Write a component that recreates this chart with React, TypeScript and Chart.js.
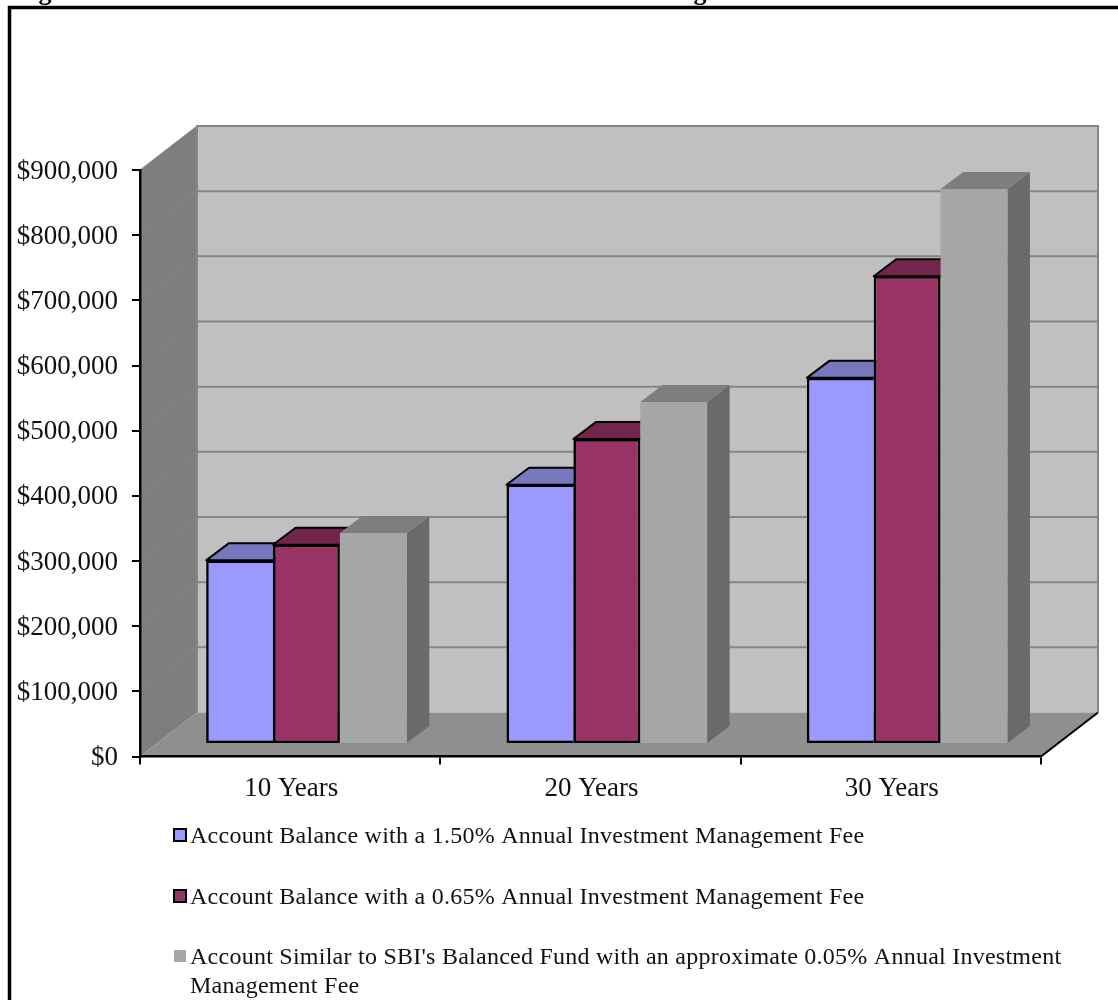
import React, { useEffect, useRef } from "react";
import { Chart, registerables } from "chart.js";

Chart.register(...registerables);

const categories = ["10 Years", "20 Years", "30 Years"];
const fee150 = [282000, 398000, 562000];
const fee065 = [306000, 468000, 718000];
const fee005 = [324000, 525000, 852000];
const seriesLabels = [
  "Account Balance with a 1.50% Annual Investment Management Fee",
  "Account Balance with a 0.65% Annual Investment Management Fee",
  "Account Similar to SBI's Balanced Fund with an approximate 0.05% Annual Investment Management Fee",
];
const legendLines = [
  [seriesLabels[0]],
  [seriesLabels[1]],
  ["Account Similar to SBI's Balanced Fund with an approximate 0.05% Annual Investment", "Management Fee"],
];
const titleTails = [{ text: "g", x: 45 }, { text: "g", x: 700 }];

const SERIF = "'Liberation Serif', 'Times New Roman', serif";
const WALL = { dx: 57, dy: -44 };
const BAR_SHIFT = { dx: 16.3, dy: -12.4 };
const BAR_DEPTH = { dx: 22.5, dy: -17 };
const BAR_EDGE = 2.6;
const SHADES: Record<number, { top: string; side: string; outlined: boolean }> = {
  0: { top: "#7777BE", side: "#6A6AA8", outlined: true },
  1: { top: "#73264C", side: "#5E1F3E", outlined: true },
  2: { top: "#7E7E7E", side: "#6A6A6A", outlined: false },
};

function poly(ctx: CanvasRenderingContext2D, pts: number[][], fill: string, stroke?: string) {
  ctx.beginPath();
  pts.forEach((p, i) => (i ? ctx.lineTo(p[0], p[1]) : ctx.moveTo(p[0], p[1])));
  ctx.closePath();
  ctx.fillStyle = fill;
  ctx.fill();
  if (stroke) {
    ctx.strokeStyle = stroke;
    ctx.lineWidth = 2;
    ctx.lineJoin = "round";
    ctx.stroke();
  }
}

const wallsPlugin = {
  id: "walls",
  beforeDraw(chart: any) {
    const { ctx, chartArea: a, scales } = chart;
    const { dx, dy } = WALL;
    ctx.save();
    ctx.strokeStyle = "#000";
    ctx.lineWidth = 3.5;
    ctx.beginPath();
    ctx.moveTo(9.5, chart.height + 5);
    ctx.lineTo(9.5, 7.5);
    ctx.lineTo(chart.width + 5, 7.5);
    ctx.stroke();
    ctx.fillStyle = "#000";
    ctx.font = `bold 26px ${SERIF}`;
    ctx.textAlign = "center";
    ctx.textBaseline = "alphabetic";
    titleTails.forEach((t) => ctx.fillText(t.text, t.x, 0));
    poly(ctx, [[a.left + dx, a.top + dy], [a.right + dx, a.top + dy], [a.right + dx, a.bottom + dy], [a.left + dx, a.bottom + dy]], "#C0C0C0");
    poly(ctx, [[a.left, a.top], [a.left + dx, a.top + dy], [a.left + dx, a.bottom + dy], [a.left, a.bottom]], "#7E7E7E");
    poly(ctx, [[a.left, a.bottom], [a.left + dx, a.bottom + dy], [a.right + dx, a.bottom + dy], [a.right, a.bottom]], "#8F8F8F");
    scales.y.ticks.forEach((t: any) => {
      const y = scales.y.getPixelForValue(t.value);
      if (t.value > 0) {
        ctx.strokeStyle = "#878787";
        ctx.lineWidth = 1;
        ctx.beginPath();
        ctx.moveTo(a.left, y);
        ctx.lineTo(a.left + dx, y + dy);
        ctx.stroke();
        ctx.strokeStyle = "#868686";
        ctx.lineWidth = 2;
        ctx.beginPath();
        ctx.moveTo(a.left + dx, y + dy);
        ctx.lineTo(a.right + dx, y + dy);
        ctx.stroke();
      }
    });
    ctx.strokeStyle = "#868686";
    ctx.lineWidth = 2;
    ctx.beginPath();
    ctx.moveTo(a.left + dx, a.bottom + dy);
    ctx.lineTo(a.left + dx, a.top + dy);
    ctx.lineTo(a.right + dx, a.top + dy);
    ctx.lineTo(a.right + dx, a.bottom + dy);
    ctx.stroke();
    ctx.strokeStyle = "#000";
    ctx.beginPath();
    ctx.moveTo(a.right, a.bottom);
    ctx.lineTo(a.right + dx, a.bottom + dy);
    ctx.stroke();
    ctx.restore();
  },
  // Series are painted left to right, so each one hides the depth faces of its left neighbour.
  beforeDatasetsDraw(chart: any) {
    const { ctx } = chart;
    const { dx, dy } = BAR_DEPTH;
    chart.data.datasets.forEach((_: any, i: number) => {
      const meta = chart.getDatasetMeta(i);
      const shade = SHADES[i];
      ctx.save();
      ctx.translate(BAR_SHIFT.dx, BAR_SHIFT.dy);
      meta.data.forEach((bar: any) => {
        const { x, y, base, width } = bar.getProps(["x", "y", "base", "width"], true);
        const l = x - width / 2;
        const r = x + width / 2;
        poly(ctx, [[r, y], [r + dx, y + dy], [r + dx, base + dy], [r, base]], shade.side);
        poly(ctx, [[l, y], [l + dx, y + dy], [r + dx, y + dy], [r, y]], shade.top, shade.outlined ? "#000" : undefined);
      });
      meta.controller.draw();
      ctx.restore();
    });
    return false;
  },
  afterDraw(chart: any) {
    const { ctx } = chart;
    const rows = [843, 904, 964];
    ctx.save();
    ctx.textAlign = "left";
    ctx.textBaseline = "alphabetic";
    ctx.font = `24px ${SERIF}`;
    (ctx as any).letterSpacing = "0.25px";
    chart.data.datasets.forEach((ds: any, i: number) => {
      const baseY = rows[i];
      ctx.fillStyle = ds.backgroundColor;
      ctx.fillRect(174, baseY - 14, 12, 12);
      if (ds.legendOutline) {
        ctx.strokeStyle = "#000";
        ctx.lineWidth = 2;
        ctx.strokeRect(174, baseY - 14, 12, 12);
      }
      ctx.fillStyle = "#111";
      legendLines[i].forEach((line, k) => ctx.fillText(line, 190, baseY + k * 29));
    });
    ctx.restore();
  },
};

export default function App() {
  const ref = useRef<HTMLCanvasElement>(null);
  useEffect(() => {
    const chart = new Chart(ref.current!, {
      type: "bar",
      data: {
        labels: categories,
        datasets: [
          { label: seriesLabels[0], data: fee150, backgroundColor: "#9999FF", borderColor: "#000", borderSkipped: false, legendOutline: true, borderWidth: { left: BAR_EDGE, top: BAR_EDGE, right: 0, bottom: BAR_EDGE } },
          { label: seriesLabels[1], data: fee065, backgroundColor: "#993366", borderColor: "#000", borderSkipped: false, legendOutline: true, borderWidth: BAR_EDGE },
          { label: seriesLabels[2], data: fee005, backgroundColor: "#A6A6A6", borderWidth: 0 },
        ],
      },
      options: {
        responsive: false,
        animation: false,
        events: [],
        layout: { autoPadding: false, padding: { left: 0, top: 170, right: 77, bottom: 0 } },
        datasets: { bar: { categoryPercentage: 0.668, barPercentage: 1 } },
        plugins: { legend: { display: false }, title: { display: false }, tooltip: { enabled: false } },
        scales: {
          x: {
            afterFit: (s: any) => { s.height = 243.5; },
            grid: { drawOnChartArea: false, drawTicks: true, tickLength: 8, color: "#000", lineWidth: 2, offset: true },
            border: { display: true, color: "#000", width: 2.5 },
            ticks: { font: { family: SERIF, size: 27 }, color: "#111", padding: 8, maxRotation: 0, labelOffset: 1 },
          },
          y: {
            min: 0,
            max: 900000,
            afterFit: (s: any) => { s.width = 140; },
            grid: { drawOnChartArea: false, drawTicks: true, tickLength: 8, color: "#000", lineWidth: 2 },
            border: { display: true, color: "#000", width: 2.5 },
            ticks: {
              stepSize: 100000,
              font: { family: SERIF, size: 27 },
              color: "#111",
              padding: 14,
              labelOffset: 1.5,
              callback: (v: any) => "$" + Number(v).toLocaleString("en-US"),
            },
          },
        },
      },
      plugins: [wallsPlugin],
    } as any);
    return () => chart.destroy();
  }, []);
  return <canvas ref={ref} width={1118} height={1000} style={{ position: "absolute", left: 0, top: 0, display: "block" }} />;
}
